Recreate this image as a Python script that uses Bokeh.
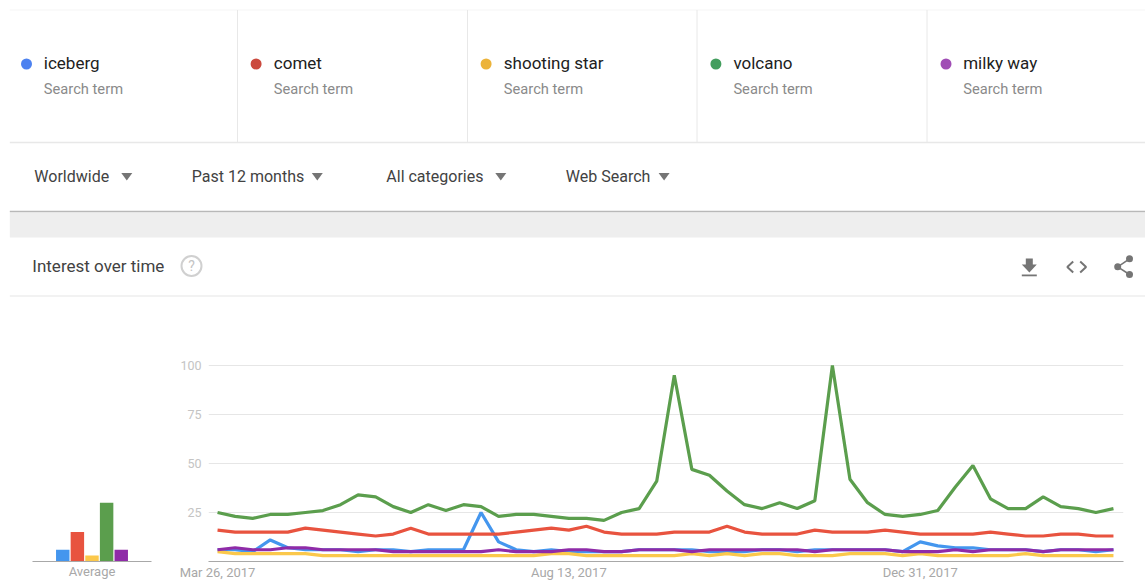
import pandas as pd
from bokeh.core.properties import value
from bokeh.embed import file_html
from bokeh.layouts import column, row
from bokeh.models import DatetimeTickFormatter, FixedTicker, Range1d
from bokeh.plotting import figure
from bokeh.resources import INLINE

TERMS = ["iceberg", "comet", "shooting star", "volcano", "milky way"]
SUBTITLE = "Search term"
FILTERS = ["Worldwide", "Past 12 months", "All categories", "Web Search"]
PANEL_TITLE = "Interest over time"
AVERAGE_LABEL = "Average"

AVERAGES = [6, 15, 3, 30, 6]
Y_TICKS = [25, 50, 75, 100]
X_TICKS = ["2017-03-26", "2017-08-13", "2017-12-31"]
START_DATE = "2017-03-26"

ICEBERG = [6, 6, 5, 11, 7, 6, 6, 6, 5, 6, 6, 5, 6, 6, 6, 25, 10, 6, 5, 6, 5, 5, 5, 5, 6, 6,
           6, 6, 5, 5, 5, 6, 6, 5, 6, 6, 6, 6, 6, 5, 10, 8, 7, 7, 6, 6, 6, 5, 6, 6, 5, 6]
COMET = [16, 15, 15, 15, 15, 17, 16, 15, 14, 13, 14, 17, 14, 14, 14, 14, 14, 15, 16, 17, 16, 18, 15, 14, 14, 14,
         15, 15, 15, 18, 15, 14, 14, 14, 16, 15, 15, 15, 16, 15, 14, 14, 14, 14, 15, 14, 13, 13, 14, 14, 13, 13]
SHOOTING_STAR = [5, 4, 4, 4, 4, 4, 3, 3, 3, 3, 3, 3, 3, 3, 3, 3, 3, 3, 3, 4, 4, 3, 3, 3, 3, 3,
                 3, 4, 3, 4, 3, 4, 4, 3, 3, 3, 4, 4, 4, 3, 4, 3, 3, 3, 3, 3, 4, 3, 3, 3, 3, 3]
VOLCANO = [25, 23, 22, 24, 24, 25, 26, 29, 34, 33, 28, 25, 29, 26, 29, 28, 23, 24, 24, 23, 22, 22, 21, 25, 27, 41,
           95, 47, 44, 36, 29, 27, 30, 27, 31, 100, 42, 30, 24, 23, 24, 26, 38, 49, 32, 27, 27, 33, 28, 27, 25, 27]
MILKY_WAY = [6, 7, 6, 6, 7, 7, 6, 6, 6, 6, 5, 5, 5, 5, 5, 5, 6, 5, 5, 5, 6, 6, 5, 5, 6, 6,
             6, 5, 6, 6, 6, 6, 6, 6, 5, 6, 6, 6, 6, 5, 5, 5, 6, 5, 6, 6, 6, 5, 6, 6, 6, 6]

SERIES = [ICEBERG, COMET, SHOOTING_STAR, VOLCANO, MILKY_WAY]
LINE_COLORS = ["#4496ee", "#e8533f", "#fbc84b", "#5b9e4d", "#8f2ba8"]
DOT_COLORS = ["#4d82f0", "#cb4a3e", "#ecb33a", "#439e5e", "#a04db5"]

FONT = value("Roboto")
TEXT_DARK = "#212121"
TEXT_MID = "#424242"
ICON = "#757575"
RULE = "#e8e8e8"

# ---------- page chrome, in page pixels ----------
top = figure(width=1145, height=340, x_range=Range1d(0.7, 1145.7), y_range=Range1d(340, 0),
             x_axis_location=None, y_axis_location=None, toolbar_location=None,
             output_backend="svg", min_border=0, outline_line_color=None)
top.grid.visible = False

top.quad(left=10, right=1146, top=212, bottom=237, fill_color="#eeeeee", line_color=None)
top.segment(x0=10, x1=1146, y0=9.5, y1=9.5, line_color="#f5f5f5", line_width=1)
top.segment(x0=10, x1=1146, y0=142, y1=142, line_color=RULE, line_width=1.5)
top.segment(x0=10, x1=1146, y0=211, y1=211, line_color="#b8b8b8", line_width=1.5)
top.segment(x0=10, x1=1146, y0=295.5, y1=295.5, line_color="#eeeeee", line_width=1.5)

term_x = [44, 274, 504, 733.6, 963.4]
dot_x = [26, 255.6, 485.6, 715.4, 945.5]
for x in [237.7, 467.7, 697.2, 927.2]:
    top.segment(x0=x, x1=x, y0=9.5, y1=142, line_color=RULE, line_width=1)
for term, tx, dx, color in zip(TERMS, term_x, dot_x, DOT_COLORS):
    top.scatter(x=[dx + 0.7], y=[63.5], size=11, fill_color=color, line_color=None)
    top.text(x=[tx], y=[62], text=[term], text_font=FONT, text_font_size="17px",
             text_color=TEXT_DARK, text_baseline="middle")
    top.text(x=[tx], y=[88], text=[SUBTITLE], text_font=FONT, text_font_size="14.7px",
             text_color="#8a8a8a", text_baseline="middle")

filter_x = [34.5, 192, 386.5, 566]
arrow_x = [127, 317.5, 501, 664.3]
for label, fx, ax in zip(FILTERS, filter_x, arrow_x):
    top.text(x=[fx], y=[175.5], text=[label], text_font=FONT, text_font_size="16px",
             text_color=TEXT_MID, text_baseline="middle")
    top.patch(x=[ax - 5.5, ax + 5.5, ax], y=[172.5, 172.5, 180], fill_color=ICON, line_color=None)

top.text(x=[32.5], y=[265], text=[PANEL_TITLE], text_font=FONT, text_font_size="17px",
         text_color=TEXT_MID, text_baseline="middle")
top.scatter(x=[191.7], y=[265.5], size=20, fill_color=None, line_color="#d0d0d0", line_width=2)
top.text(x=[191.7], y=[265.5], text=["?"], text_font=FONT, text_font_size="14px",
         text_color="#c4c4c4", text_align="center", text_baseline="middle")

# download icon
top.patch(x=[1026, 1033, 1033, 1037, 1029.6, 1022, 1026],
          y=[258, 258, 264, 264, 272, 264, 264], fill_color=ICON, line_color=None)
top.quad(left=1022, right=1037, top=274, bottom=275.8, fill_color=ICON, line_color=None)
# embed icon
top.line(x=[1073.4, 1067.5, 1073.4], y=[261, 266.4, 272], line_color=ICON, line_width=2)
top.line(x=[1080.4, 1086.3, 1080.4], y=[261, 266.4, 272], line_color=ICON, line_width=2)
# share icon
top.line(x=[1129.7, 1117.9, 1129.7], y=[258.3, 266.3, 274], line_color=ICON, line_width=1.6)
top.scatter(x=[1129.7, 1117.9, 1129.7], y=[258.3, 266.3, 274], size=7, fill_color=ICON, line_color=None)

# ---------- shared value scale ----------
value_range = Range1d(0, 110.2)
BOTTOM_H = 240
FRAME_H = 216
BORDER_T = 5
BORDER_B = 19
AXIS_GREY = "#a8a8a8"

# ---------- average bars ----------
bars = figure(width=165, height=BOTTOM_H, frame_height=FRAME_H, x_range=Range1d(-2.07, 6.07),
              y_range=value_range, y_axis_location=None, toolbar_location=None, output_backend="svg",
              min_border_left=32, min_border_right=14, min_border_top=BORDER_T,
              min_border_bottom=BORDER_B, outline_line_color=None)
bars.grid.visible = False
bars.vbar(x=list(range(len(TERMS))), top=AVERAGES, bottom=0, width=0.92,
          fill_color=LINE_COLORS, line_color=None)
bars.xaxis.ticker = FixedTicker(ticks=[])
bars.xaxis.axis_label = AVERAGE_LABEL
bars.xaxis.axis_label_standoff = 2
bars.xaxis.axis_label_text_font = "Roboto"
bars.xaxis.axis_label_text_font_style = "normal"
bars.xaxis.axis_label_text_font_size = "13px"
bars.xaxis.axis_label_text_color = AXIS_GREY
bars.xaxis.axis_line_color = AXIS_GREY
bars.xaxis.axis_line_width = 1.2
bars.xaxis.major_tick_line_color = None
bars.xaxis.minor_tick_line_color = None
bars.xaxis.major_tick_out = 0
bars.xaxis.major_tick_in = 0
bars.xaxis.minor_tick_out = 0
bars.xaxis.minor_tick_in = 0
bars.xaxis.major_label_standoff = 0

# ---------- lines ----------
dates = pd.date_range(START_DATE, periods=len(VOLCANO), freq="7D")
x_start = dates[0] - pd.Timedelta(days=3.6)
x_end = dates[0] + pd.Timedelta(days=361)

lines = figure(width=980, height=BOTTOM_H, frame_height=FRAME_H, x_axis_type="datetime",
               x_range=Range1d(x_start, x_end), y_range=value_range,
               toolbar_location=None, output_backend="svg",
               min_border_left=43, min_border_right=22, min_border_top=BORDER_T,
               min_border_bottom=BORDER_B, outline_line_color=None)
for values, color in zip(SERIES, LINE_COLORS):
    lines.line(x=dates, y=values, line_color=color, line_width=3.2, line_join="bevel")

tick_ms = [pd.Timestamp(t).value / 1e6 for t in X_TICKS]
lines.xaxis.ticker = FixedTicker(ticks=tick_ms)
fmt = "%b %d, %Y"
lines.xaxis.formatter = DatetimeTickFormatter(
    microseconds=fmt, milliseconds=fmt, seconds=fmt, minsec=fmt, minutes=fmt, hourmin=fmt,
    hours=fmt, days=fmt, months=fmt, years=fmt)
lines.xaxis.major_tick_line_color = None
lines.xaxis.minor_tick_line_color = None
lines.xaxis.major_tick_out = 0
lines.xaxis.major_tick_in = 0
lines.xaxis.minor_tick_out = 0
lines.xaxis.minor_tick_in = 0
lines.xaxis.axis_line_color = AXIS_GREY
lines.xaxis.axis_line_width = 1.2
lines.xaxis.major_label_standoff = 3
lines.xaxis.major_label_text_font = "Roboto"
lines.xaxis.major_label_text_font_size = "13px"
lines.xaxis.major_label_text_color = AXIS_GREY

lines.yaxis.ticker = FixedTicker(ticks=Y_TICKS)
lines.yaxis.axis_line_color = None
lines.yaxis.major_tick_line_color = None
lines.yaxis.minor_tick_line_color = None
lines.yaxis.major_tick_out = 0
lines.yaxis.major_tick_in = 0
lines.yaxis.minor_tick_out = 0
lines.yaxis.minor_tick_in = 0
lines.yaxis.major_label_standoff = 7
lines.yaxis.major_label_text_font = "Roboto"
lines.yaxis.major_label_text_font_size = "12.5px"
lines.yaxis.major_label_text_color = "#c4c4c4"

lines.xgrid.visible = False
lines.ygrid.ticker = FixedTicker(ticks=Y_TICKS)
lines.ygrid.grid_line_color = "#e6e6e6"
lines.ygrid.grid_line_width = 1.2

page = column(top, row(bars, lines, spacing=0), spacing=0)
open("out.html", "w").write(file_html(page, INLINE))
